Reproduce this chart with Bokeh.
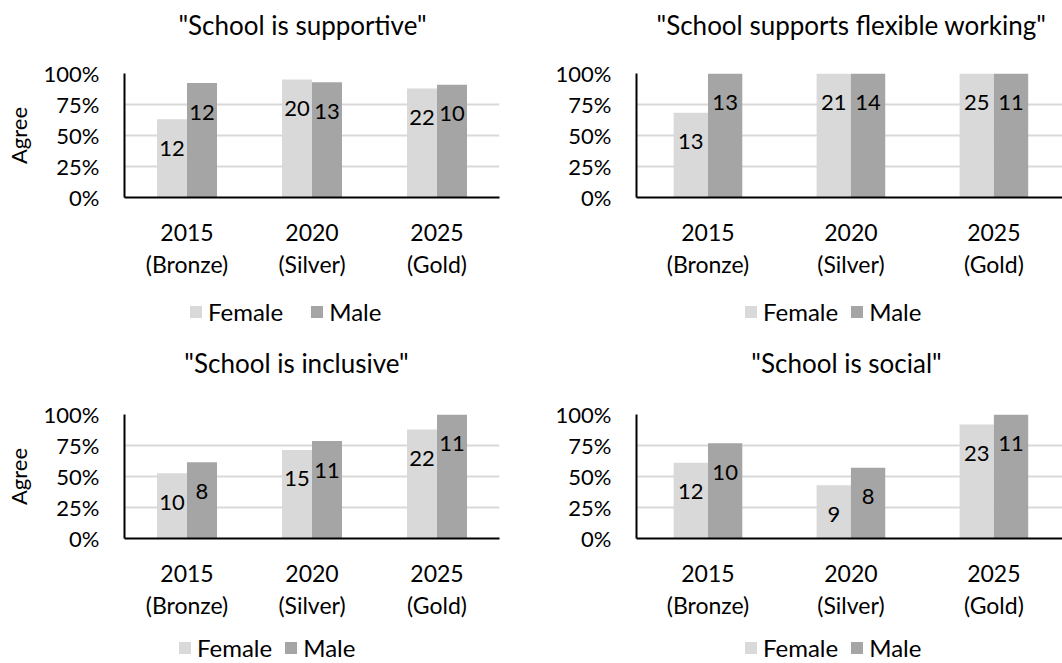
from bokeh.plotting import figure
from bokeh.layouts import column, row
from bokeh.models import (ColumnDataSource, Range1d, FixedTicker, Legend, LegendItem,
                          Label, PrintfTickFormatter)
from bokeh.transform import dodge
from bokeh.core.properties import value
from bokeh.embed import file_html
from bokeh.resources import INLINE

# Survey rounds shown on the x axis
categories = ["2015\n(Bronze)", "2020\n(Silver)", "2025\n(Gold)"]

titles = ['"School is supportive"', '"School supports flexible working"',
          '"School is inclusive"', '"School is social"']

# Share agreeing (%) and number of respondents agreeing, per round
supportive_female = [63.2, 95.2, 88.0]
supportive_male = [92.3, 92.9, 90.9]
supportive_female_n = [12, 20, 22]
supportive_male_n = [12, 13, 10]

flexible_female = [68.4, 100.0, 100.0]
flexible_male = [100.0, 100.0, 100.0]
flexible_female_n = [13, 21, 25]
flexible_male_n = [13, 14, 11]

inclusive_female = [52.6, 71.4, 88.0]
inclusive_male = [61.5, 78.6, 100.0]
inclusive_female_n = [10, 15, 22]
inclusive_male_n = [8, 11, 11]

social_female = [61.0, 42.9, 92.0]
social_male = [76.9, 57.1, 100.0]
social_female_n = [12, 9, 23]
social_male_n = [10, 8, 11]

y_ticks = [0, 25, 50, 75, 100]

FEMALE_COLOR = "#d9d9d9"
MALE_COLOR = "#a5a5a5"
FONT = "Lato"
TEXT_COLOR = "#000000"
BAR_WIDTH = 0.24


def make_source(female, male, female_n, male_n):
    return ColumnDataSource(dict(
        pos=[i + 0.5 for i in range(len(categories))],
        female=female, male=male,
        female_n=[str(v) for v in female_n],
        male_n=[str(v) for v in male_n],
    ))


def add_bars(p, src):
    f = p.vbar(x=dodge("pos", -BAR_WIDTH / 2), top="female", width=BAR_WIDTH, bottom=0,
               source=src, fill_color=FEMALE_COLOR, line_color=None)
    m = p.vbar(x=dodge("pos", BAR_WIDTH / 2), top="male", width=BAR_WIDTH, bottom=0,
               source=src, fill_color=MALE_COLOR, line_color=None)
    return f, m


def blank_figure(width, height):
    """A strip with no axes or grid; its frame lines up with the chart frame below."""
    p = figure(width=width, height=height, output_backend="svg", toolbar_location=None,
               x_axis_type=None, y_axis_type=None,
               x_range=Range1d(0, 1), y_range=Range1d(0, 1),
               min_border_left=0, min_border_right=0, min_border_top=0, min_border_bottom=0)
    p.outline_line_color = None
    p.background_fill_color = "white"
    p.border_fill_color = "white"
    p.xgrid.grid_line_color = None
    p.ygrid.grid_line_color = None
    return p


def title_figure(text, width, height, cx, cy):
    p = blank_figure(width, height)
    p.add_layout(Label(x=cx, y=cy, x_units="screen", y_units="screen",
                       text=text, text_align="center", text_baseline="middle",
                       text_font=FONT, text_font_size="26px", text_color=TEXT_COLOR))
    return p


def legend_figure(src, width, height, lx, ly, spacing):
    p = blank_figure(width, height)
    # hidden copies of the bar renderers, used only as legend swatches
    f, m = add_bars(p, src)
    f.visible = False
    m.visible = False
    legend = Legend(items=[LegendItem(label="Female", renderers=[f]),
                           LegendItem(label="Male", renderers=[m])],
                    orientation="horizontal", location=(lx, ly),
                    label_text_font=FONT, label_text_font_size="24px",
                    label_text_color=TEXT_COLOR, label_height=24,
                    glyph_width=15, glyph_height=15, label_standoff=5,
                    spacing=spacing, padding=0, margin=0,
                    inactive_fill_alpha=0, click_policy="none",
                    border_line_color=None, background_fill_alpha=0)
    p.add_layout(legend, "center")
    return p


def chart_figure(src, frame_w, left, right, x_end, show_ylabel):
    p = figure(frame_width=frame_w, frame_height=124, output_backend="svg",
               toolbar_location=None,
               x_range=Range1d(0, x_end), y_range=Range1d(0, 100),
               min_border_left=left, min_border_right=right,
               min_border_top=23, min_border_bottom=88)
    p.outline_line_color = None
    p.background_fill_color = "white"
    p.border_fill_color = "white"

    add_bars(p, src)

    # respondent counts inside the bars
    for col, lab, off in (("female", "female_n", -BAR_WIDTH / 2),
                          ("male", "male_n", BAR_WIDTH / 2)):
        p.text(x=dodge("pos", off), y=col, text=lab, source=src,
               y_offset=29, text_align="center", text_baseline="middle",
               text_font=value(FONT), text_font_size="22px", text_color=TEXT_COLOR)

    # axes
    pos = list(src.data["pos"])
    p.xaxis.ticker = FixedTicker(ticks=pos)
    p.xaxis.major_label_overrides = {pv: c for pv, c in zip(pos, categories)}
    p.yaxis.ticker = FixedTicker(ticks=y_ticks)
    p.yaxis.formatter = PrintfTickFormatter(format="%d%%")
    for ax in (p.xaxis, p.yaxis):
        ax.axis_line_color = "black"
        ax.axis_line_width = 2
        ax.major_tick_line_color = None
        ax.minor_tick_line_color = None
        ax.major_label_text_font = FONT
        ax.major_label_text_color = TEXT_COLOR
    p.yaxis.major_label_text_font_size = "22px"
    p.xaxis.major_label_text_font_size = "23px"
    p.xaxis.major_label_standoff = 14
    p.xaxis.major_label_text_line_height = 1.15
    p.yaxis.major_label_standoff = 19
    if show_ylabel:
        p.yaxis.axis_label = "Agree"
        p.yaxis.axis_label_text_font = FONT
        p.yaxis.axis_label_text_font_size = "22px"
        p.yaxis.axis_label_text_font_style = "normal"
        p.yaxis.axis_label_text_color = TEXT_COLOR
        p.yaxis.axis_label_standoff = 9

    p.xgrid.grid_line_color = None
    p.ygrid.grid_line_color = "#d9d9d9"
    p.ygrid.grid_line_width = 2
    p.ygrid.ticker = FixedTicker(ticks=y_ticks)
    return p


def panel(title, female, male, female_n, male_n, left_side, top_row, title_x, legend_x,
          legend_spacing):
    if left_side:
        width, frame_w, left, right, x_end = 530, 375, 124, 31, 3.0
    else:
        width, frame_w, left, right, x_end = 532, 426, 106, 0, 2.98
    title_h = 50
    legend_h = 56 if top_row else 37
    title_y = 26 if top_row else 29
    legend_y = 15 if top_row else 1
    src = make_source(female, male, female_n, male_n)
    t = title_figure(title, width, title_h, title_x, title_y)
    c = chart_figure(src, frame_w, left, right, x_end, left_side)
    lg = legend_figure(src, width, legend_h, legend_x, legend_y, legend_spacing)
    return column(t, c, lg)


# title centre and legend start are measured from the left edge of each chart frame
p1 = panel(titles[0], supportive_female, supportive_male, supportive_female_n,
           supportive_male_n, True, True, 178, 64, 26)
p2 = panel(titles[1], flexible_female, flexible_male, flexible_female_n,
           flexible_male_n, False, True, 215, 107, 11)
p3 = panel(titles[2], inclusive_female, inclusive_male, inclusive_female_n,
           inclusive_male_n, True, False, 172, 53, 11)
p4 = panel(titles[3], social_female, social_male, social_female_n,
           social_male_n, False, False, 210, 107, 11)

layout = column(row(p1, p2), row(p3, p4))

with open("out.html", "w") as fh:
    fh.write(file_html(layout, INLINE))
